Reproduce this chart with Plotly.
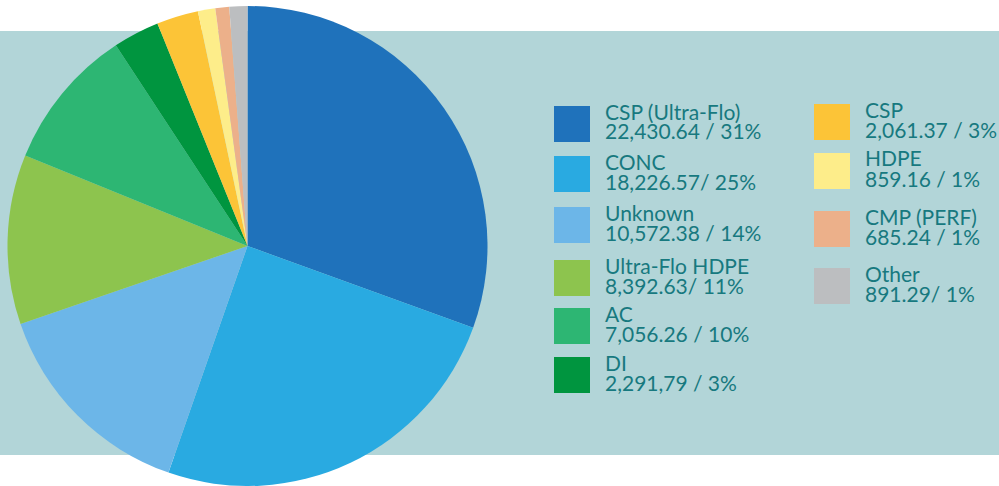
import plotly.graph_objects as go

labels = ["CSP (Ultra-Flo)", "CONC", "Unknown", "Ultra-Flo HDPE", "AC", "DI",
          "CSP", "HDPE", "CMP (PERF)", "Other"]
values = [22430.64, 18226.57, 10572.38, 8392.63, 7056.26, 2291.79,
          2061.37, 859.16, 685.24, 891.29]
value_texts = ["22,430.64 / 31%", "18,226.57/ 25%", "10,572.38 / 14%", "8,392.63/ 11%",
               "7,056.26 / 10%", "2,291,79 / 3%", "2,061.37 / 3%", "859.16 / 1%",
               "685.24 / 1%", "891.29/ 1%"]
colors = ["#1f72bb", "#29aae1", "#6cb6e8", "#8dc44e", "#2db673", "#00953f",
          "#fcc437", "#fded8a", "#ecb08a", "#bcbec0"]

W, H = 999, 486
fig = go.Figure()
fig.add_trace(go.Pie(
    labels=labels, values=values, sort=False, direction="clockwise", rotation=0,
    marker=dict(colors=colors, line=dict(width=0)),
    textinfo="none", hoverinfo="label+value+percent", showlegend=False,
    domain=dict(x=[7.5 / W, 487.5 / W], y=[0, 480 / H]),
))

shapes = [dict(type="rect", xref="paper", yref="paper", x0=0, x1=1,
               y0=1 - 455 / H, y1=1 - 31 / H, fillcolor="#b2d5d8",
               line=dict(width=0), layer="below")]
annotations = []

# legend layout (pixel positions)
col_x = [554, 814]
tops = [106, 156, 207, 260, 308, 357, 104, 153, 211, 268]
txt_col = "#17797f"
for i, lab in enumerate(labels):
    c = 0 if i < 6 else 1
    x0 = col_x[c]
    t = tops[i]
    shapes.append(dict(type="rect", xref="paper", yref="paper",
                       x0=x0 / W, x1=(x0 + 36) / W, y0=1 - (t + 36) / H, y1=1 - t / H,
                       fillcolor=colors[i], line=dict(width=0), layer="above"))
    tx = x0 + 49
    for j, s in enumerate([lab, value_texts[i]]):
        base = t + 12 + 20 * j  # baseline
        annotations.append(dict(xref="paper", yref="paper", x=tx / W,
                                y=1 - (base - 7) / H, text=s, showarrow=False,
                                xanchor="left", yanchor="middle",
                                font=dict(family="Lato", size=21, color=txt_col)))

fig.update_layout(width=W, height=H, margin=dict(l=0, r=0, t=0, b=0),
                  paper_bgcolor="white", plot_bgcolor="white",
                  shapes=shapes, annotations=annotations)
fig.write_html("out.html", config={"displayModeBar": False},
               post_script="document.body.style.margin='0';document.body.style.padding='0';")
